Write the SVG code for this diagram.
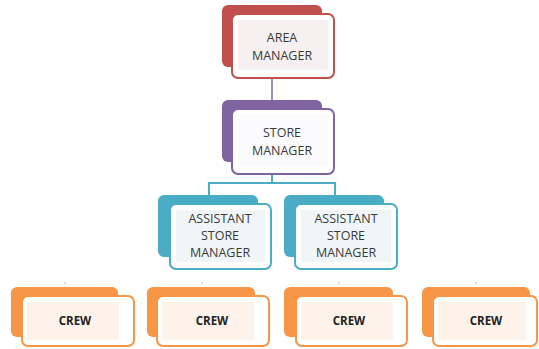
<svg xmlns="http://www.w3.org/2000/svg" width="539" height="349" viewBox="0 0 539 349">
  <style>
    .back { stroke: none; }
    .front { fill: #ffffff; stroke-width: 2; }
    .lbl { font-family: "Open Sans", "Liberation Sans", sans-serif; font-size: 12.5px; fill: #3a3a3a; text-anchor: middle; }
    .crew { font-family: "Open Sans", "Liberation Sans", sans-serif; font-size: 11.5px; font-weight: bold; fill: #222222; text-anchor: middle; }
    .red .back { fill: #c0504d; } .red .front { stroke: #c0504d; } .red .inner { fill: #f7f0f0; }
    .pur .back { fill: #8064a2; } .pur .front { stroke: #8064a2; } .pur .inner { fill: #fbfafc; }
    .teal .back { fill: #4bacc6; } .teal .front { stroke: #4bacc6; } .teal .inner { fill: #f0f6f8; }
    .org .back { fill: #f79646; } .org .front { stroke: #f79646; } .org .inner { fill: #fdf3ea; }
  </style>

  <!-- connectors -->
  <g id="connectors" fill="none" stroke-width="2">
    <line x1="272" y1="79" x2="272" y2="109" stroke="#9d90ba"/>
    <polyline points="272,174 272,183" stroke="#4bacc6"/>
    <polyline points="209,195 209,183 335,183 335,195" stroke="#4bacc6"/>
    <g stroke="#b8b8b8" stroke-width="1">
      <line x1="65" y1="282" x2="65" y2="284"/>
      <line x1="202" y1="282" x2="202" y2="284"/>
      <line x1="339" y1="282" x2="339" y2="284"/>
      <line x1="476" y1="282" x2="476" y2="284"/>
    </g>
  </g>

  <!-- area manager -->
  <g id="area-manager" class="red">
    <rect class="back" x="222" y="5" width="100" height="62" rx="6"/>
    <rect class="front" x="232" y="14" width="102" height="64" rx="6"/>
    <rect class="inner" x="238" y="20" width="90" height="50"/>
    <text class="lbl" x="282" y="42">AREA</text>
    <text class="lbl" x="282" y="60">MANAGER</text>
  </g>

  <!-- store manager -->
  <g id="store-manager" class="pur">
    <rect class="back" x="222" y="100" width="100" height="62" rx="6"/>
    <rect class="front" x="232" y="109" width="102" height="65" rx="6"/>
    <rect class="inner" x="238" y="115" width="90" height="52"/>
    <text class="lbl" x="282" y="137">STORE</text>
    <text class="lbl" x="282" y="155">MANAGER</text>
  </g>

  <!-- assistant store managers -->
  <g id="assistant-1" class="teal">
    <rect class="back" x="158" y="195" width="100" height="62" rx="6"/>
    <rect class="front" x="170" y="204" width="101" height="65" rx="6"/>
    <rect class="inner" x="176" y="210" width="89" height="52"/>
    <text class="lbl" x="220" y="223">ASSISTANT</text>
    <text class="lbl" x="220" y="240">STORE</text>
    <text class="lbl" x="220" y="257">MANAGER</text>
  </g>
  <g id="assistant-2" class="teal">
    <rect class="back" x="284" y="195" width="100" height="62" rx="6"/>
    <rect class="front" x="295" y="204" width="102" height="65" rx="6"/>
    <rect class="inner" x="301" y="210" width="90" height="52"/>
    <text class="lbl" x="346" y="223">ASSISTANT</text>
    <text class="lbl" x="346" y="240">STORE</text>
    <text class="lbl" x="346" y="257">MANAGER</text>
  </g>

  <!-- crew -->
  <g id="crew-1" class="org">
    <rect class="back" x="11" y="287" width="107" height="50" rx="6"/>
    <rect class="front" x="22" y="296" width="112" height="50" rx="6"/>
    <rect class="inner" x="27" y="302" width="92" height="38"/>
    <text class="crew" x="75" y="325">CREW</text>
  </g>
  <g id="crew-2" class="org">
    <rect class="back" x="147" y="287" width="108" height="50" rx="6"/>
    <rect class="front" x="157" y="296" width="112" height="50" rx="6"/>
    <rect class="inner" x="162" y="302" width="92" height="38"/>
    <text class="crew" x="212" y="325">CREW</text>
  </g>
  <g id="crew-3" class="org">
    <rect class="back" x="284" y="287" width="109" height="50" rx="6"/>
    <rect class="front" x="296" y="296" width="111" height="50" rx="6"/>
    <rect class="inner" x="301" y="302" width="92" height="38"/>
    <text class="crew" x="349" y="325">CREW</text>
  </g>
  <g id="crew-4" class="org">
    <rect class="back" x="422" y="287" width="108" height="50" rx="6"/>
    <rect class="front" x="433" y="296" width="104" height="50" rx="6"/>
    <rect class="inner" x="438" y="302" width="88" height="38"/>
    <text class="crew" x="486" y="325">CREW</text>
  </g>
</svg>
